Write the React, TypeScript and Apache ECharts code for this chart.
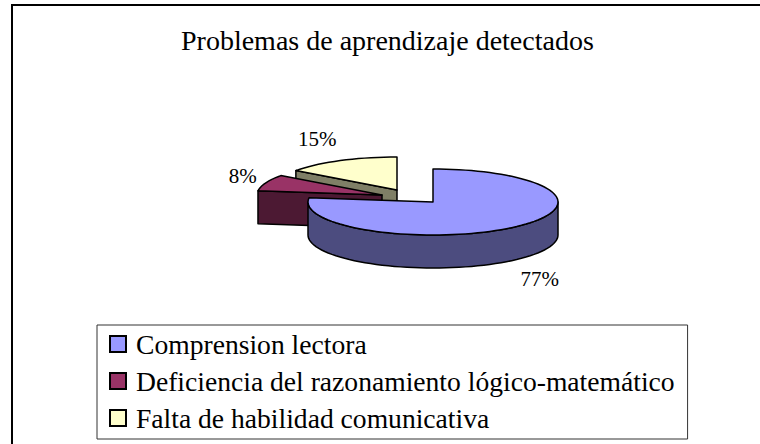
import React, { useEffect, useRef } from "react";
import * as echarts from "echarts";

const titleText = "Problemas de aprendizaje detectados";
const names = ["Comprension lectora", "Deficiencia del razonamiento lógico-matemático", "Falta de habilidad comunicativa"];
const values = [77, 8, 15];
const topColors = ["#9999ff", "#993366", "#ffffcc"];
const sideColors = ["#4c4c7f", "#4c1933", "#7f7f66"];
const centers = [[433, 202], [382, 195], [397, 190]];
const labelOffsets = [[24, 52], [-23, -7], [-23, -22]];
const RX = 125, RY = 33, DEPTH = 33;
const total = values.reduce((a, b) => a + b, 0);
const drawOrder = [2, 1, 0];

function pt(cx: number, cy: number, deg: number): number[] {
  const r = (deg * Math.PI) / 180;
  return [cx + RX * Math.sin(r), cy - RY * Math.cos(r)];
}

function makeSeries(i: number) {
  const before = values.slice(0, i).reduce((a, b) => a + b, 0);
  const start = (before / total) * 360;
  return {
    type: "custom",
    name: names[i],
    coordinateSystem: "none",
    z: 2 + drawOrder.indexOf(i),
    itemStyle: { color: topColors[i], borderColor: "#000", borderWidth: 2 },
    data: [values[i]],
    renderItem: (_p: any, api: any) => {
      const sweep = (api.value(0) / total) * 360;
      const end = start + sweep;
      const [cx, cy] = centers[i];
      const arc: number[][] = [];
      for (let a = start; a <= end + 0.01; a += 3) arc.push(pt(cx, cy, Math.min(a, end)));
      const last = pt(cx, cy, end);
      arc.push(last);
      const children: any[] = [];
      const line = { stroke: "#000", lineWidth: 1.5, lineJoin: "round" };
      const first = pt(cx, cy, start);
      if (start > 180) {
        children.push({
          type: "polygon",
          shape: { points: [[cx, cy], first, [first[0], first[1] + DEPTH], [cx, cy + DEPTH]] },
          style: { fill: sideColors[i], ...line },
        });
      }
      const lower = arc.filter((p, k) => {
        const a = start + k * 3;
        return Math.min(a, end) >= 90 && Math.min(a, end) <= 270;
      });
      if (lower.length > 1) {
        const down = lower.map((p) => [p[0], p[1] + DEPTH]).reverse();
        children.push({
          type: "polygon",
          shape: { points: [...lower, ...down] },
          style: { fill: sideColors[i], ...line },
        });
      }
      children.push({
        type: "polygon",
        shape: { points: [[cx, cy], ...arc] },
        style: { fill: topColors[i], ...line },
      });
      const mid = pt(cx, cy, start + sweep / 2);
      children.push({
        type: "text",
        style: {
          text: `${api.value(0)}%`,
          x: mid[0] + labelOffsets[i][0],
          y: mid[1] + labelOffsets[i][1],
          fill: "#000",
          font: '21px "Liberation Serif"',
          align: "center",
          verticalAlign: "middle",
        },
      });
      return { type: "group", children };
    },
  };
}

export default function App() {
  const ref = useRef<HTMLDivElement>(null);
  useEffect(() => {
    const chart = echarts.init(ref.current!, undefined, { renderer: "svg" });
    chart.setOption({
      animation: false,
      backgroundColor: "#fff",
      title: {
        text: titleText,
        left: 176,
        top: 21,
        textStyle: { fontFamily: "Liberation Serif", fontSize: 28, fontWeight: "normal", color: "#000" },
      },
      graphic: [
        {
          type: "rect",
          shape: { x: 12, y: 5, width: 760, height: 450 },
          style: { fill: "none", stroke: "#000", lineWidth: 2 },
          silent: true,
          z: 0,
        },
      ],
      legend: {
        data: names,
        orient: "vertical",
        left: 97,
        top: 325,
        padding: [5, 13, 7, 12],
        itemGap: 9,
        itemWidth: 16,
        itemHeight: 16,
        borderColor: "#333",
        borderWidth: 1,
        backgroundColor: "#fff",
        icon: "rect",
        textStyle: { fontFamily: "Liberation Serif", fontSize: 27.6, color: "#000", padding: [0, 0, 0, 5] },
      },
      series: [0, 1, 2].map(makeSeries),
    });
    return () => chart.dispose();
  }, []);
  return <div ref={ref} style={{ position: "fixed", left: 0, top: 0, width: 760, height: 444 }} />;
}
